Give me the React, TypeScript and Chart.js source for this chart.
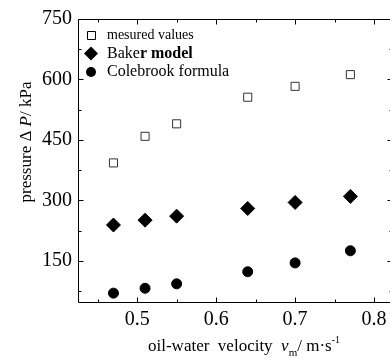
import React, { useEffect, useRef } from "react";
import { Chart, registerables } from "chart.js";

Chart.register(...registerables);

// ---- data ----
const velocity = [0.47, 0.51, 0.55, 0.64, 0.7, 0.77];
const measured = [393, 459, 490, 556, 583, 612];
const baker = [239, 251, 261, 280, 295, 310];
const colebrook = [70, 82, 93, 123, 145, 175];
const xTicks = [0.5, 0.6, 0.7, 0.8];
const xMinorTicks = [0.45, 0.55, 0.65, 0.75];
const yTicks = [150, 300, 450, 600, 750];
const yMinorTicks = [75, 225, 375, 525, 675];
const seriesNames = ["mesured values", "Baker model", "Colebrook formula"];

const FONT = "'Liberation Serif', 'Times New Roman', serif";
const PLOT_RIGHT = 393; // right frame sits just outside the 390px picture

type Seg = { t: string; style?: string; size: number; dy?: number };

function drawSegs(ctx: CanvasRenderingContext2D, segs: Seg[], x: number, y: number) {
  let cx = x;
  for (const s of segs) {
    ctx.font = `${s.style || ""} ${s.size}px ${FONT}`;
    ctx.fillText(s.t, cx, y + (s.dy || 0));
    cx += ctx.measureText(s.t).width;
  }
}
function segsWidth(ctx: CanvasRenderingContext2D, segs: Seg[]) {
  let w = 0;
  for (const s of segs) {
    ctx.font = `${s.style || ""} ${s.size}px ${FONT}`;
    w += ctx.measureText(s.t).width;
  }
  return w;
}

const framePlugin = {
  id: "frameTicks",
  afterDatasetsDraw(chart: any) {
    const { ctx, chartArea: a, scales } = chart;
    const xs = scales.x;
    const ys = scales.y;
    const L = Math.round(a.left) + 0.5;
    const T = Math.round(a.top) + 0.5;
    const B = Math.round(a.bottom) + 0.5;
    const R = Math.round(a.right) + 0.5;
    ctx.save();
    ctx.strokeStyle = "#000";
    ctx.lineWidth = 1;
    ctx.beginPath();
    ctx.moveTo(L, T);
    ctx.lineTo(L, B);
    ctx.moveTo(L, T);
    ctx.lineTo(R, T);
    ctx.moveTo(L, B);
    ctx.lineTo(R, B);
    ctx.moveTo(R, T);
    ctx.lineTo(R, B);
    const tick = (vals: number[], len: number) => {
      for (const v of vals) {
        const px = Math.round(xs.getPixelForValue(v)) + 0.5;
        ctx.moveTo(px, B);
        ctx.lineTo(px, B - len);
        ctx.moveTo(px, T);
        ctx.lineTo(px, T + len);
      }
    };
    const ytick = (vals: number[], len: number) => {
      for (const v of vals) {
        const py = Math.round(ys.getPixelForValue(v)) + 0.5;
        ctx.moveTo(L, py);
        ctx.lineTo(L + len, py);
        ctx.moveTo(R, py);
        ctx.lineTo(R - len, py);
      }
    };
    tick(xTicks, 5);
    tick(xMinorTicks, 3);
    ytick(yTicks, 5);
    ytick(yMinorTicks, 3);
    ctx.stroke();
    ctx.restore();
  },
  afterDraw(chart: any) {
    const { ctx } = chart;
    ctx.save();
    ctx.fillStyle = "#000";
    ctx.textBaseline = "alphabetic";
    ctx.textAlign = "left";

    // y title
    const ySegs: Seg[] = [
      { t: "pressure \u0394 ", size: 17 },
      { t: "P", style: "italic", size: 17 },
      { t: "/ kPa", size: 17 },
    ];
    ctx.save();
    ctx.translate(31, 142);
    ctx.rotate(-Math.PI / 2);
    drawSegs(ctx, ySegs, -segsWidth(ctx, ySegs) / 2, 0);
    ctx.restore();

    // x title
    const xSegs: Seg[] = [
      { t: "oil-water  velocity  ", size: 17 },
      { t: "v", style: "italic", size: 17 },
      { t: "m", size: 11, dy: 5 },
      { t: "/ m\u00b7s", size: 17 },
      { t: "-1", size: 10, dy: -8 },
    ];
    drawSegs(ctx, xSegs, 148, 351);

    // legend
    const lx = 91;
    const rows = [35, 53.5, 72];
    ctx.lineWidth = 1;
    ctx.strokeStyle = "#000";
    ctx.fillStyle = "#fff";
    ctx.beginPath();
    ctx.rect(lx - 4 + 0.5, rows[0] - 4 + 0.5, 8, 8);
    ctx.fill();
    ctx.stroke();
    ctx.fillStyle = "#000";
    ctx.beginPath();
    ctx.moveTo(lx - 7, rows[1]);
    ctx.lineTo(lx, rows[1] - 7);
    ctx.lineTo(lx + 7, rows[1]);
    ctx.lineTo(lx, rows[1] + 7);
    ctx.closePath();
    ctx.fill();
    ctx.beginPath();
    ctx.arc(lx, rows[2], 5, 0, Math.PI * 2);
    ctx.fill();

    ctx.textBaseline = "middle";
    drawSegs(ctx, [{ t: seriesNames[0], size: 14 }], 107, rows[0]);
    const bakerWord = seriesNames[1].split(" ");
    drawSegs(
      ctx,
      [
        { t: bakerWord[0].slice(0, -1), size: 16 },
        { t: bakerWord[0].slice(-1) + " " + bakerWord[1], style: "bold", size: 16 },
      ],
      107,
      rows[1]
    );
    drawSegs(ctx, [{ t: seriesNames[2], size: 16 }], 107, rows[2]);
    ctx.restore();
  },
};

export default function App() {
  const ref = useRef<HTMLCanvasElement | null>(null);
  useEffect(() => {
    if (!ref.current) return;
    const toPts = (ys: number[]) => velocity.map((x, i) => ({ x, y: ys[i] }));
    const chart = new Chart(ref.current, {
      type: "scatter",
      data: {
        datasets: [
          {
            label: seriesNames[0],
            data: toPts(measured),
            pointStyle: "rect",
            pointRadius: 5.7,
            backgroundColor: "#fff",
            borderColor: "#333",
            borderWidth: 1,
          },
          {
            label: seriesNames[1],
            data: toPts(baker),
            pointStyle: "rectRot",
            pointRadius: 7,
            backgroundColor: "#000",
            borderColor: "#000",
            borderWidth: 1,
          },
          {
            label: seriesNames[2],
            data: toPts(colebrook),
            pointStyle: "circle",
            pointRadius: 5,
            backgroundColor: "#000",
            borderColor: "#000",
            borderWidth: 1,
          },
        ],
      },
      options: {
        responsive: false,
        animation: false,
        devicePixelRatio: 1,
        layout: { padding: { top: 19, right: 7, left: 0, bottom: 0 } },
        plugins: { legend: { display: false }, tooltip: { enabled: false } },
        scales: {
          x: {
            type: "linear",
            min: 0.4251,
            max: 0.8227,
            afterBuildTicks: (s: any) => {
              s.ticks = xTicks.map((v) => ({ value: v }));
            },
            afterFit: (s: any) => {
              s.height = 58;
              s.paddingLeft = 0;
              s.paddingRight = 0;
            },
            grid: { display: false, drawTicks: false },
            border: { display: false },
            ticks: {
              color: "#000",
              padding: 6,
              font: { family: FONT, size: 20 },
              callback: (v: any) => Number(v).toFixed(1),
            },
          },
          y: {
            type: "linear",
            min: 48,
            max: 750,
            afterBuildTicks: (s: any) => {
              s.ticks = yTicks.map((v) => ({ value: v }));
            },
            afterFit: (s: any) => {
              s.width = 78;
              s.paddingTop = 0;
              s.paddingBottom = 0;
            },
            grid: { display: false, drawTicks: false },
            border: { display: false },
            ticks: {
              color: "#000",
              padding: 6,
              font: { family: FONT, size: 20 },
              callback: (v: any) => String(v),
            },
          },
        },
      },
      plugins: [framePlugin],
    } as any);
    // make the plot's right frame land exactly at PLOT_RIGHT
    for (let i = 0; i < 3; i++) {
      const dw = Math.round(PLOT_RIGHT - chart.chartArea.right);
      if (dw === 0) break;
      chart.resize(chart.width + dw, 360);
    }
    return () => chart.destroy();
  }, []);
  return (
    <div style={{ position: "fixed", left: 0, top: 0, width: 390, height: 360, overflow: "hidden", background: "#fff" }}>
      <canvas ref={ref} width={400} height={360} style={{ display: "block", width: 400, height: 360 }} />
    </div>
  );
}
